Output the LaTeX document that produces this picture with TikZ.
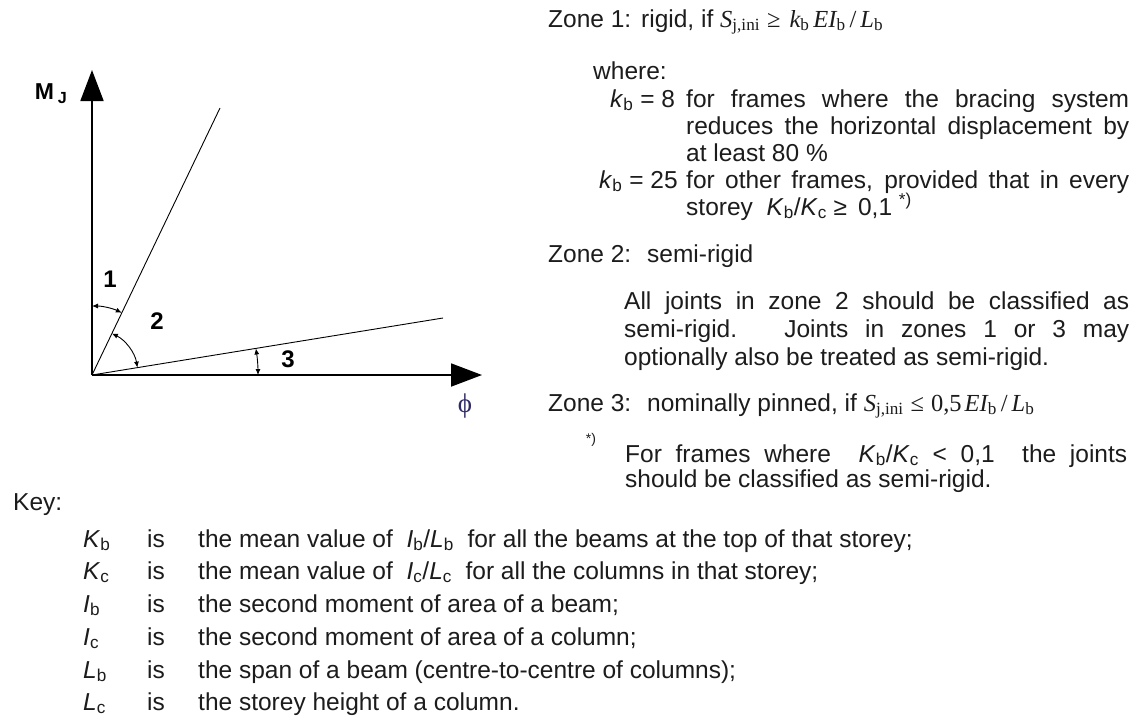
\documentclass[tikz,border=0pt]{standalone}
\usepackage{fontspec}
\setmainfont{Liberation Sans}
\newfontfamily\tms{Liberation Serif}
\usetikzlibrary{arrows.meta}
\definecolor{textc}{HTML}{1C1C1C}
\definecolor{phic}{HTML}{2E2A66}
\newcommand{\sbs}[1]{\textsubscript{#1}}
\newcommand{\tmi}[1]{{\tms\itshape #1}}
\newcommand{\tmsb}[1]{\textsubscript{\tms #1}}
\tikzset{
  txt/.style={anchor=base west, inner sep=0pt, font=\fontsize{24.5}{28}\selectfont, text=textc},
  lbl/.style={anchor=center, inner sep=0pt, font=\fontsize{24}{28}\selectfont\bfseries},
  axisline/.style={line width=1.8pt, -{Triangle[length=31pt,width=23pt]}},
  zoneline/.style={line width=0.9pt},
  arcarrow/.style={line width=0.9pt, {Latex[length=6pt,width=5pt]}-{Latex[length=6pt,width=5pt]}}
}
\begin{document}
\begin{tikzpicture}[x=1pt,y=-1pt]
\useasboundingbox (0,0) rectangle (1147,718);
\fill[white] (0,0) rectangle (1147,718);
% ---- graph ----
\coordinate (O) at (92,375);
\coordinate (Ytip) at (92,70);
\coordinate (Xtip) at (482,375);
\coordinate (S1) at (220,108);
\coordinate (S2) at (443,318);
\draw[axisline] (O) -- (Ytip);
\draw[axisline] (O) -- (Xtip);
\draw[zoneline] (O) -- (S1);
\draw[zoneline] (O) -- (S2);
\draw[arcarrow] ([shift={(-90:69)}]O) arc[start angle=-90, end angle=-64.4, radius=69];
\draw[arcarrow] ([shift={(-64.4:46)}]O) arc[start angle=-64.4, end angle=-9.2, radius=46];
\draw[arcarrow] ([shift={(-9.2:166)}]O) arc[start angle=-9.2, end angle=0, radius=166];
\node[lbl] (n1) at (110,279) {1};
\node[lbl] (n2) at (157,321) {2};
\node[lbl] (n3) at (288,359) {3};
\node[anchor=center, inner sep=0pt, font=\fontsize{23}{26}\selectfont\bfseries] (mj) at (51,94) {M\,\textsubscript{J}};
\node[anchor=center, inner sep=0pt, font=\fontsize{27}{30}\selectfont\tms, text=phic] (phi) at (465,406) {ϕ};
% ---- zone text ----
\node[txt] (z1) at (548,27) {Zone 1:};
\node[txt] (z1t) at (641,27) {rigid, if \tmi{S}\tmsb{j,ini}\hspace{7pt}{\tms ≥}\hspace{9pt}\tmi{k}\tmsb{b}\hspace{4pt}\tmi{EI}\tmsb{b}\hspace{4pt}{\tms /}\hspace{4pt}\tmi{L}\tmsb{b}};
\node[txt] (wh) at (593,79) {where:};
\node[txt] (k8) at (610,107) {\textit{k}\sbs{b} = 8};
\node[txt] (k8a) at (686,107) {\makebox[443pt][s]{for frames where the bracing system}};
\node[txt] (k8b) at (686,134) {\makebox[443pt][s]{reduces the horizontal displacement by}};
\node[txt] (k8c) at (686,161) {at least 80 \%};
\node[txt] (k25) at (599,188) {\textit{k}\sbs{b} = 25};
\node[txt] (k25a) at (686,188) {\makebox[443pt][s]{for other frames, provided that in every}};
\node[txt] (k25b) at (686,215) {storey \ \textit{K}\sbs{b}/\textit{K}\sbs{c} ≥\, 0,1 \textsuperscript{*)}};
\node[txt] (z2) at (548,262) {Zone 2:};
\node[txt] (z2t) at (647,262) {semi-rigid};
\node[txt] (p1) at (624,309) {\makebox[505pt][s]{All joints in zone 2 should be classified as}};
\node[txt] (p2) at (624,337) {\makebox[505pt][s]{semi-rigid.\hspace{8pt} Joints in zones 1 or 3 may}};
\node[txt] (p3) at (624,365) {optionally also be treated as semi-rigid.};
\node[txt] (z3) at (548,411) {Zone 3:};
\node[txt] (z3t) at (647,411) {nominally pinned, if \tmi{S}\tmsb{j,ini}\hspace{7pt}{\tms ≤}\hspace{7pt}{\tms 0,5}\hspace{3pt}\tmi{EI}\tmsb{b}\hspace{4pt}{\tms /}\hspace{4pt}\tmi{L}\tmsb{b}};
\node[anchor=center, inner sep=0pt, font=\fontsize{14}{16}\selectfont, text=textc] (fn) at (591,440) {*)};
\node[txt] (f1) at (625,462) {\makebox[502pt][s]{For frames where \ \textit{K}\sbs{b}/\textit{K}\sbs{c} < 0,1 \ the joints}};
\node[txt] (f2) at (625,487) {should be classified as semi-rigid.};
% ---- key ----
\node[txt] (key) at (13,510) {Key:};
\foreach \yy/\sym/\txt [count=\i] in {
  547/{\textit{K}\sbs{b}}/{the mean value of \ \textit{I}\sbs{b}/\textit{L}\sbs{b} \ for all the beams at the top of that storey;},
  579/{\textit{K}\sbs{c}}/{the mean value of \ \textit{I}\sbs{c}/\textit{L}\sbs{c} \ for all the columns in that storey;},
  612/{\textit{I}\sbs{b}}/{the second moment of area of a beam;},
  645/{\textit{I}\sbs{c}}/{the second moment of area of a column;},
  678/{\textit{L}\sbs{b}}/{the span of a beam (centre-to-centre of columns);},
  710/{\textit{L}\sbs{c}}/{the storey height of a column.}}{
  \node[txt] (ks\i) at (83,\yy) {\sym};
  \node[txt] (ki\i) at (147,\yy) {is};
  \node[txt] (kt\i) at (198,\yy) {\txt};
}
\end{tikzpicture}
\end{document}
